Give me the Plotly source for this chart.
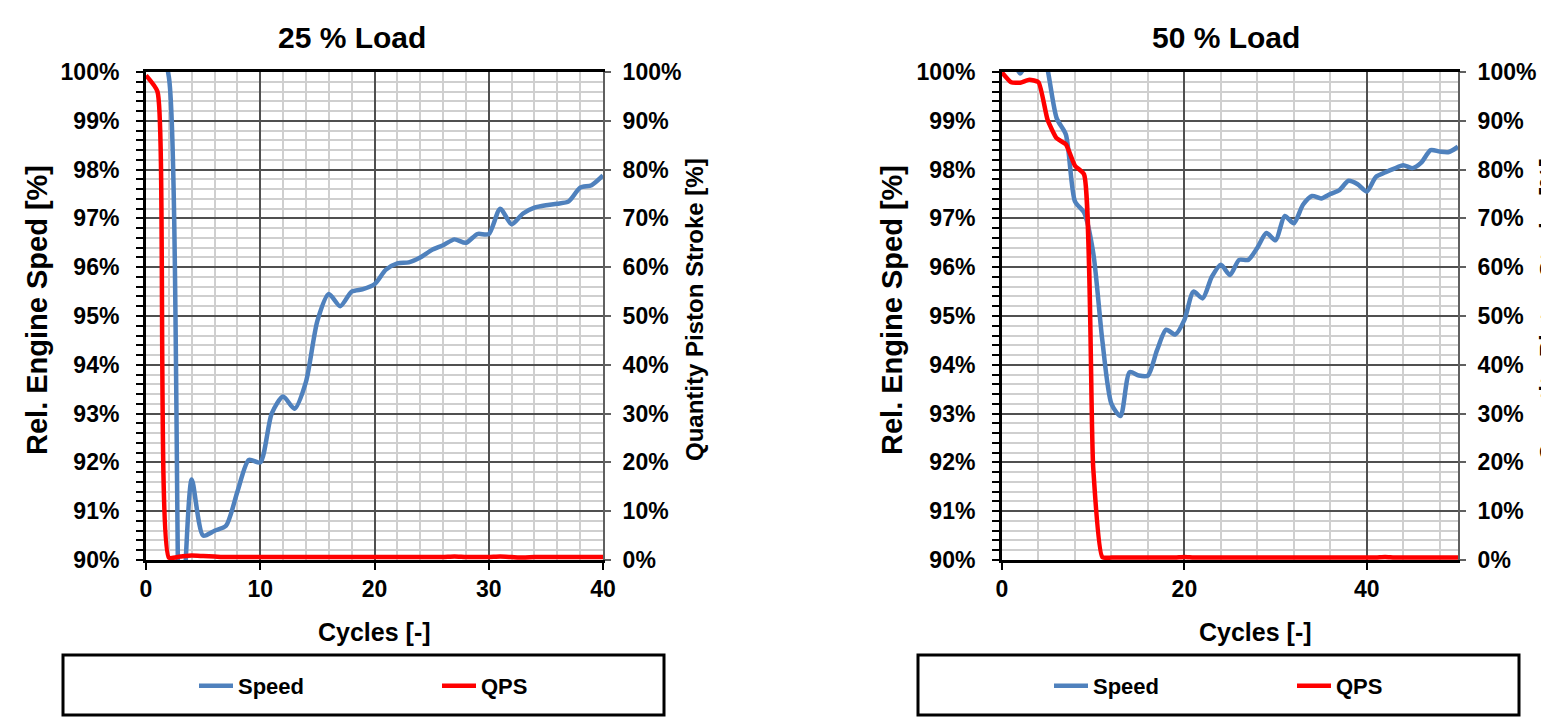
import plotly.graph_objects as go

# ---------------- data ----------------
cycles_25 = list(range(0, 41))
speed_25 = [100.8, 100.7, 99.9, 88.0, 91.65, 90.5, 90.6, 90.7, 91.4, 92.05,
            92.0, 93.0, 93.35, 93.1, 93.65, 94.9, 95.45, 95.2, 95.5, 95.55,
            95.65, 95.95, 96.08, 96.1, 96.2, 96.35, 96.45, 96.57, 96.5, 96.68,
            96.68, 97.2, 96.88, 97.1, 97.22, 97.27, 97.3, 97.35, 97.63, 97.68,
            97.88]
qps_25 = [99.3, 96.0, 0.5, 0.7, 0.9, 0.8, 0.7, 0.6, 0.6, 0.6,
          0.6, 0.6, 0.6, 0.6, 0.6, 0.6, 0.6, 0.6, 0.6, 0.6,
          0.6, 0.6, 0.6, 0.6, 0.6, 0.6, 0.6, 0.7, 0.6, 0.6,
          0.6, 0.7, 0.6, 0.5, 0.6, 0.6, 0.6, 0.6, 0.6, 0.6,
          0.6]

cycles_50 = list(range(0, 51))
speed_50 = [100.9, 100.4, 99.97, 100.4, 100.8, 100.05, 99.05, 98.72, 97.35, 97.12,
            96.3, 94.5, 93.2, 92.95, 93.85, 93.78, 93.78, 94.3, 94.72, 94.62,
            94.92, 95.5, 95.36, 95.8, 96.05, 95.84, 96.15, 96.15, 96.4, 96.7,
            96.55, 97.05, 96.9, 97.28, 97.46, 97.41, 97.5, 97.58, 97.77, 97.7,
            97.55, 97.85, 97.94, 98.02, 98.09, 98.03, 98.15, 98.4, 98.37, 98.36,
            98.47]
qps_50 = [99.9, 97.9, 97.8, 98.4, 97.9, 90.2, 86.4, 85.2, 80.8, 79.0,
          19.0, 0.6, 0.5, 0.5, 0.5, 0.5, 0.5, 0.5, 0.5, 0.5,
          0.6, 0.5, 0.5, 0.5, 0.5, 0.5, 0.5, 0.5, 0.5, 0.5,
          0.5, 0.5, 0.5, 0.5, 0.5, 0.5, 0.5, 0.5, 0.5, 0.5,
          0.5, 0.5, 0.6, 0.5, 0.5, 0.5, 0.5, 0.5, 0.5, 0.5,
          0.5]

titles = ["25 % Load", "50 % Load"]
x_title = "Cycles [-]"
y_title = "Rel. Engine Sped [%]"
y2_title = "Quantity Piston Stroke [%]"
series_names = ["Speed", "QPS"]

# ---------------- styling ----------------
W, H = 1541, 718
FONT = "Liberation Sans, Arial, sans-serif"
BLUE = "#4F81BD"
RED = "#FF0000"
MAJ = "#505050"
MIN = "#cfcfcf"


def px(p):
    return p / W


def py(p):
    return 1 - p / H


fig = go.Figure()

fig.add_trace(go.Scatter(x=cycles_25, y=speed_25, name=series_names[0], mode="lines",
                         line=dict(color=BLUE, width=4.5, shape="spline", smoothing=0.7),
                         xaxis="x", yaxis="y", legend="legend"))
fig.add_trace(go.Scatter(x=cycles_25, y=qps_25, name=series_names[1], mode="lines",
                         line=dict(color=RED, width=4.5, shape="spline", smoothing=0.5),
                         xaxis="x", yaxis="y2", legend="legend"))
fig.add_trace(go.Scatter(x=cycles_50, y=speed_50, name=series_names[0], mode="lines",
                         line=dict(color=BLUE, width=4.5, shape="spline", smoothing=0.7),
                         xaxis="x2", yaxis="y3", legend="legend2"))
fig.add_trace(go.Scatter(x=cycles_50, y=qps_50, name=series_names[1], mode="lines",
                         line=dict(color=RED, width=4.5, shape="spline", smoothing=0.5),
                         xaxis="x2", yaxis="y4", legend="legend2"))

tickfont = dict(family=FONT, size=23, color="black", weight="bold")
ydom = [py(560), py(72)]


def xaxis(dom, rng, dtick, mdtick, anchor):
    return dict(domain=dom, range=rng, dtick=dtick, anchor=anchor, automargin=False,
                showgrid=True, gridcolor=MAJ, gridwidth=1.5,
                minor=dict(dtick=mdtick, showgrid=True, gridcolor=MIN, gridwidth=1.5),
                showline=True, linecolor="black", linewidth=2.5, mirror=True,
                ticks="outside", ticklen=7, tickcolor="black", tickwidth=1.5,
                tickfont=tickfont, zeroline=False, fixedrange=True,
                ticklabelstandoff=0)


def yaxis_left(anchor):
    return dict(domain=ydom, range=[90, 100], dtick=1, ticksuffix="%", anchor=anchor,
                automargin=False,
                showgrid=True, gridcolor=MAJ, gridwidth=1.5,
                minor=dict(dtick=0.2, showgrid=True, gridcolor=MIN, gridwidth=1.5,
                           ticks="outside", ticklen=7, tickcolor="black", tickwidth=1.5),
                showline=True, linecolor="black", linewidth=3,
                ticks="outside", ticklen=7, tickcolor="black", tickwidth=1.5,
                tickfont=tickfont, zeroline=False, fixedrange=True,
                ticklabelstandoff=12)


def yaxis_right(overlay, anchor):
    return dict(domain=ydom, range=[0, 100], dtick=10, ticksuffix="%", side="right",
                overlaying=overlay, anchor=anchor, showgrid=False, automargin=False,
                showline=True, linecolor="#606060", linewidth=2,
                ticks="outside", ticklen=6, tickcolor="#606060", tickwidth=1.5,
                tickfont=tickfont, zeroline=False, fixedrange=True,
                ticklabelstandoff=7)


legend_common = dict(orientation="h", xanchor="left", yanchor="middle",
                     font=dict(family=FONT, size=22, color="black", weight="bold"),
                     bgcolor="rgba(0,0,0,0)", borderwidth=0,
                     entrywidth=194, entrywidthmode="pixels", itemwidth=34,
                     traceorder="normal")

annotations = []


def ann(text, x, y, size, angle=0):
    annotations.append(dict(text=text, x=px(x), y=py(y), xref="paper", yref="paper",
                            showarrow=False, textangle=angle, xanchor="center", yanchor="middle",
                            font=dict(family=FONT, size=size, color="black", weight="bold")))


ann(titles[0], 352, 37, 30)
ann(titles[1], 1226, 37, 30)
ann(x_title, 374, 632, 25)
ann(x_title, 1255, 632, 25)
ann(y_title, 37, 310, 29, -90)
ann(y_title, 892, 310, 29, -90)
ann(y2_title, 695, 310, 24, -90)
ann(y2_title, 1549, 310, 24, -90)

shapes = [
    dict(type="rect", xref="paper", yref="paper", x0=px(63), x1=px(664), y0=py(715), y1=py(655),
         line=dict(color="black", width=3)),
    dict(type="rect", xref="paper", yref="paper", x0=px(918), x1=px(1519), y0=py(715), y1=py(655),
         line=dict(color="black", width=3)),
]

fig.update_layout(
    width=W, height=H,
    margin=dict(l=0, r=0, t=0, b=0, pad=0, autoexpand=False),
    paper_bgcolor="white", plot_bgcolor="white",
    showlegend=True,
    xaxis=xaxis([px(146), px(603)], [0, 40], 10, 2, "y"),
    yaxis=yaxis_left("x"),
    yaxis2=yaxis_right("y", "x"),
    xaxis2=xaxis([px(1002), px(1458)], [0, 50], 20, 4, "y3"),
    yaxis3=yaxis_left("x2"),
    yaxis4=yaxis_right("y3", "x2"),
    legend=dict(x=px(194), y=py(686), **legend_common),
    legend2=dict(x=px(1049), y=py(686), **legend_common),
    annotations=annotations,
    shapes=shapes,
    font=dict(family=FONT, color="black"),
)

fig.write_html("out.html",
               config={"displayModeBar": False},
               post_script="document.body.style.margin='0';document.body.style.overflow='hidden';")
